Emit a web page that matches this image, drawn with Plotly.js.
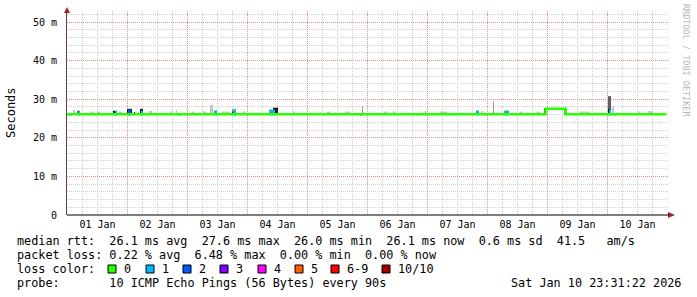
<!DOCTYPE html>
<html>
<head>
<meta charset="utf-8">
<script src="https://cdn.plot.ly/plotly-3.0.1.min.js"></script>
<style>html,body{margin:0;padding:0;background:#fff;}#chart{width:697px;height:297px;}</style>
</head>
<body>
<div id="chart"></div>
<script>
// ---------------- DATA (hours after 2026-01-01 00:00) ----------------
const dayLabels = ["01 Jan","02 Jan","03 Jan","04 Jan","05 Jan","06 Jan","07 Jan","08 Jan","09 Jan","10 Jan"];
const yTickVals = [0, 10, 20, 30, 40, 50];
const yTickText = ["0", "10 m", "20 m", "30 m", "40 m", "50 m"];

// median rtt (ms), step line
const medianHour = [-0.48, 191.2, 199.2, 239.52];
const medianMs   = [26.1, 27.5, 26.1, 26.1];

// smoke (ping spread) bands
const smokeStart = [2.2, 3.8, 9.0, 11.8, 18.2, 20.6, 23.8, 26.6, 29.0, 32.6, 41.0, 43.4, 49.8, 54.2, 57.0, 58.6, 61.8, 65.8, 65.8, 70.2, 74.2, 80.6, 82.2, 90.2, 103.8, 111.0, 117.8, 126.6, 130.2, 143.0, 149.0, 163.4, 165.4, 170.2, 174.8, 180.8, 187.6, 190.6, 198.8, 204.8, 216.2, 216.2, 217.8, 228.2, 232.2];
const smokeEnd   = [3.0, 5.0, 10.2, 13.0, 19.8, 21.8, 25.8, 27.0, 30.2, 33.8, 41.8, 43.8, 50.6, 55.4, 58.2, 59.8, 65.0, 67.4, 67.4, 71.0, 74.6, 81.8, 84.2, 91.0, 105.0, 113.0, 118.2, 127.8, 131.0, 143.4, 151.8, 164.6, 166.2, 170.6, 176.4, 182.0, 188.8, 191.4, 199.6, 208.8, 217.4, 217.4, 218.6, 229.0, 234.2];
const smokeLow   = [26.3, 26.3, 26.3, 26.3, 26.0, 26.3, 26.0, 26.0, 26.0, 26.3, 26.3, 26.3, 26.3, 26.3, 26.3, 26.0, 26.3, 26.3, 26.0, 26.3, 26.3, 26.3, 26.0, 26.3, 26.3, 26.3, 26.3, 26.3, 26.3, 26.3, 26.3, 26.0, 26.3, 26.3, 26.0, 26.3, 26.3, 26.0, 26.0, 26.3, 26.3, 26.0, 26.3, 26.3, 26.3];
const smokeHigh  = [27.2, 27.0, 26.8, 26.8, 27.0, 26.8, 27.5, 26.7, 27.5, 27.0, 26.8, 27.2, 26.8, 26.8, 28.5, 27.0, 26.8, 27.5, 26.8, 26.8, 26.8, 27.3, 27.8, 26.8, 26.8, 26.8, 28.1, 26.8, 26.8, 26.9, 26.8, 27.0, 26.9, 29.5, 27.0, 26.8, 26.8, 27.6, 27.6, 26.8, 30.8, 27.5, 28.1, 26.8, 26.9];
const smokeLevel = [1, 3, 1, 1, 4, 1, 4, 4, 4, 1, 1, 1, 1, 1, 1, 4, 1, 2, 4, 1, 1, 2, 4, 1, 1, 1, 2, 1, 1, 2, 1, 4, 1, 2, 4, 1, 1, 4, 4, 1, 3, 4, 1, 1, 1];

// packet loss events on the median
const lossStart = [0.2, 4.2, 19.0, 24.2, 29.4, 43.8, 58.6, 66.2, 81.0, 102.2, 117.0, 139.8, 153.8, 163.4, 175.0, 216.6, 218.2];
const lossEnd   = [1.8, 5.0, 19.8, 25.4, 30.2, 45.8, 59.8, 67.4, 83.0, 102.6, 117.8, 140.6, 155.0, 164.6, 176.4, 217.4, 219.4];
const lossTop   = [26.4, 26.8, 27.0, 27.3, 27.0, 26.4, 27.0, 27.0, 27.3, 26.4, 26.4, 26.4, 26.4, 27.0, 27.0, 27.3, 26.4];
const lossCount = [1, 1, 1, 2, 1, 1, 1, 1, 1, 1, 1, 1, 1, 1, 1, 1, 1];

const legendLabels = ["0", "1", "2", "3", "4", "5", "6-9", "10/10"];
const legendColors = ["#26ff00", "#00b8ff", "#0059ff", "#7e00ff", "#ff00ff", "#ff5e00", "#ff0000", "#a10000"];

const statLines = [
  "median rtt:  26.1 ms avg  27.6 ms max  26.0 ms min  26.1 ms now  0.6 ms sd  41.5   am/s",
  "packet loss: 0.22 % avg  6.48 % max  0.00 % min  0.00 % now",
  "loss color:",
  "probe:       10 ICMP Echo Pings (56 Bytes) every 90s"
];
const stampText = "Sat Jan 10 23:31:22 2026";
const creditText = "RRDTOOL / TOBI OETIKER";

// ---------------- BUILD ----------------
const T0 = Date.UTC(2026, 0, 1);
const H = 3600e3;
const t = h => T0 + h * H;

const smokeShade = {1: "#c4c4c4", 2: "#9a9a9a", 3: "#5e5e5e", 4: "#1c1c1c"};
const lossColor = c => legendColors[Math.min(c, 7)];

const L = 67, R = 668, TOP = 11, BOT = 215;
const W = 697, HGT = 297;
const pw = R - L, ph = BOT - TOP;
const px = x => (x - L) / pw;
const py = y => (BOT - y) / ph;
const mono = "DejaVu Sans Mono, monospace";

const traces = [];
traces.push({
  type: "bar",
  x: smokeStart.map((s, i) => t((s + smokeEnd[i]) / 2)),
  width: smokeStart.map((s, i) => (smokeEnd[i] - s) * H),
  base: smokeLow,
  y: smokeHigh.map((v, i) => v - smokeLow[i]),
  marker: {color: smokeLevel.map(l => smokeShade[l]), line: {width: 0}},
  hoverinfo: "skip", showlegend: false
});
traces.push({
  type: "scatter", mode: "lines",
  x: medianHour.map(t), y: medianMs,
  line: {color: legendColors[0], width: 2.5, shape: "hv"},
  hoverinfo: "skip", showlegend: false
});
traces.push({
  type: "bar",
  x: lossStart.map((s, i) => t((s + lossEnd[i]) / 2)),
  width: lossStart.map((s, i) => (lossEnd[i] - s) * H),
  base: lossStart.map(() => 25.8),
  y: lossTop.map(v => v - 25.8),
  marker: {color: lossCount.map(lossColor), line: {width: 0}},
  hoverinfo: "skip", showlegend: false
});
// label axis carrier
traces.push({type: "scatter", x: [], y: [], xaxis: "x2", showlegend: false, hoverinfo: "skip"});

const midnights = dayLabels.map((d, i) => t(24 * i)).concat([t(240)]);
const noons = dayLabels.map((d, i) => t(24 * i + 12));

const annotations = [];
statLines.forEach((s, i) => annotations.push({
  xref: "paper", yref: "paper", x: px(16), y: py(241 + 14 * i),
  xanchor: "left", yanchor: "middle", showarrow: false, text: s.replace(/ /g, "&nbsp;"),
  font: {family: mono, size: 11.8, color: "#000"}, borderpad: 0
}));
annotations.push({
  xref: "paper", yref: "paper", x: px(682), y: py(283),
  xanchor: "right", yanchor: "middle", showarrow: false, text: stampText,
  font: {family: mono, size: 11.8, color: "#000"}, borderpad: 0
});
annotations.push({
  xref: "paper", yref: "paper", x: px(686), y: py(60),
  xanchor: "center", yanchor: "middle", showarrow: false, text: creditText, textangle: 90,
  font: {family: mono, size: 8.5, color: "#b8b8b8"}, borderpad: 0
});
annotations.push({
  xref: "paper", yref: "paper", x: px(11), y: py(113),
  xanchor: "center", yanchor: "middle", showarrow: false, text: "Seconds", textangle: -90,
  font: {family: mono, size: 12, color: "#000"}, borderpad: 0
});
const boxX = [108, 146, 183, 220, 258, 295, 331, 382];
const shapes = [];
legendLabels.forEach((lab, i) => {
  shapes.push({type: "rect", xref: "paper", yref: "paper",
    x0: px(boxX[i]), x1: px(boxX[i] + 8), y0: py(265), y1: py(273),
    fillcolor: legendColors[i], line: {color: "#000", width: 1}});
  annotations.push({
    xref: "paper", yref: "paper", x: px(boxX[i] + 15), y: py(269),
    xanchor: "left", yanchor: "middle", showarrow: false, text: lab,
    font: {family: mono, size: 11.8, color: "#000"}, borderpad: 0
  });
});
// axis arrows
shapes.push({type: "path", xref: "paper", yref: "paper", line: {width: 0}, fillcolor: "#a42424",
  path: `M${px(64)},${py(13)} L${px(70)},${py(13)} L${px(67)},${py(7)} Z`});
shapes.push({type: "path", xref: "paper", yref: "paper", line: {width: 0}, fillcolor: "#a42424",
  path: `M${px(668)},${py(212)} L${px(668)},${py(218)} L${px(675)},${py(215)} Z`});
shapes.push({type: "line", xref: "paper", yref: "paper", x0: px(67), x1: px(669), y0: 0, y1: 0,
  line: {color: "#000", width: 1}});

const layout = {
  width: W, height: HGT,
  margin: {l: L, r: W - R, t: TOP, b: HGT - BOT, pad: 0},
  paper_bgcolor: "#fff", plot_bgcolor: "#fff",
  barmode: "overlay", showlegend: false,
  font: {family: mono, size: 10, color: "#000"},
  xaxis: {
    type: "date", range: [t(-0.2), t(240.2)],
    tickmode: "array", tickvals: midnights, showticklabels: false, ticks: "",
    showgrid: true, gridcolor: "rgba(230,120,120,0.75)", griddash: "1px,1px", gridwidth: 1,
    minor: {dtick: 6 * H, tick0: T0, showgrid: true, gridcolor: "#d0d0d0", griddash: "1px,1px", gridwidth: 1, ticks: ""},
    showline: false, zeroline: false, fixedrange: true
  },
  xaxis2: {
    type: "date", overlaying: "x", matches: "x", side: "bottom",
    tickmode: "array", tickvals: noons, ticktext: dayLabels, ticks: "",
    showgrid: false, zeroline: false, showline: false,
    tickfont: {family: mono, size: 10, color: "#000"}, ticklabelstandoff: 2
  },
  yaxis: {
    range: [0, ph / 3.86], tickmode: "array", tickvals: yTickVals, ticktext: yTickText,
    ticks: "", tickfont: {family: mono, size: 10, color: "#000"}, ticklabelstandoff: 7,
    showgrid: true, gridcolor: "rgba(230,120,120,0.75)", griddash: "1px,1px", gridwidth: 1,
    minor: {dtick: 2, showgrid: true, gridcolor: "#d0d0d0", griddash: "1px,1px", gridwidth: 1, ticks: ""},
    showline: true, linecolor: "#6e3c3c", linewidth: 1, zeroline: false, fixedrange: true
  },
  annotations: annotations,
  shapes: shapes
};

Plotly.newPlot("chart", traces, layout, {displayModeBar: false, staticPlot: true});
</script>
</body>
</html>
